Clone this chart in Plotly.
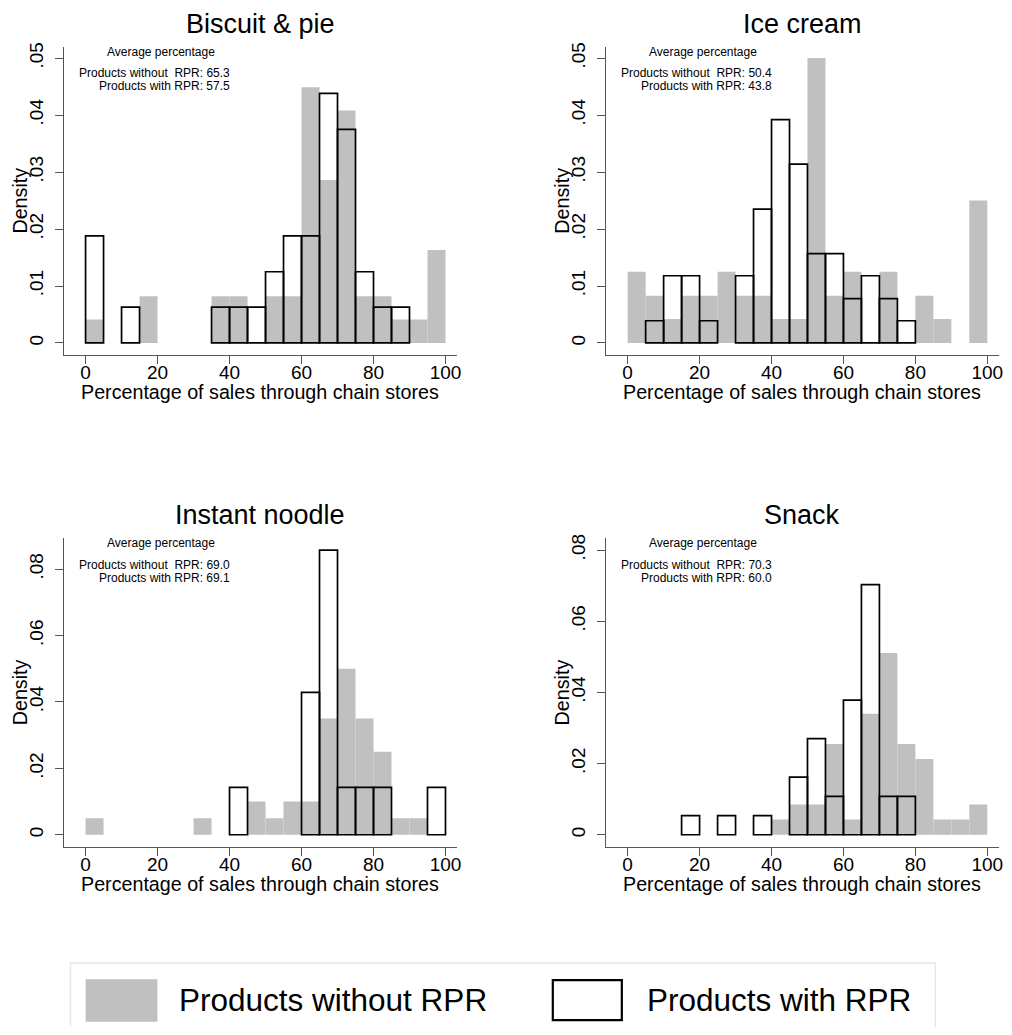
import plotly.graph_objects as go

# ---------------- data (density per 5-point bin) ----------------
bin_starts = [0, 5, 10, 15, 20, 25, 30, 35, 40, 45, 50, 55, 60, 65, 70, 75, 80, 85, 90, 95]
bin_width = 5

panel_titles = ["Biscuit & pie", "Ice cream", "Instant noodle", "Snack"]

biscuit_without = [0.0041, 0, 0, 0.0082, 0, 0, 0, 0.0082, 0.0082, 0, 0.0082, 0.0082,
                   0.0449, 0.0286, 0.0408, 0.0082, 0.0082, 0.0041, 0.0041, 0.0163]
biscuit_with = [0.0188, 0, 0.0063, 0, 0, 0, 0, 0.0063, 0.0063, 0.0063, 0.0125, 0.0188,
                0.0188, 0.0438, 0.0375, 0.0125, 0.0063, 0.0063, 0, 0]

icecream_without = [0.0125, 0.0083, 0.0042, 0.0083, 0.0083, 0.0125, 0.0083, 0.0083, 0.0042, 0.0042,
                    0.0500, 0.0083, 0.0125, 0, 0.0125, 0, 0.0083, 0.0042, 0, 0.0250]
icecream_with = [0, 0.0039, 0.0118, 0.0118, 0.0039, 0, 0.0118, 0.0235, 0.0392, 0.0314,
                 0.0157, 0.0157, 0.0078, 0.0118, 0.0078, 0.0039, 0, 0, 0, 0]

noodle_without = [0.005, 0, 0, 0, 0, 0, 0.005, 0, 0, 0.010, 0.005, 0.010,
                  0.010, 0.035, 0.050, 0.035, 0.025, 0.005, 0.005, 0]
noodle_with = [0, 0, 0, 0, 0, 0, 0, 0, 0.0143, 0, 0, 0,
               0.0429, 0.0857, 0.0143, 0.0143, 0.0143, 0, 0, 0.0143]

snack_without = [0, 0, 0, 0, 0, 0, 0, 0, 0.0043, 0.0085, 0.0085, 0.0255,
                 0.0043, 0.0340, 0.0511, 0.0255, 0.0213, 0.0043, 0.0043, 0.0085]
snack_with = [0, 0, 0, 0.0054, 0, 0.0054, 0, 0.0054, 0, 0.0162, 0.0270, 0.0108,
              0.0378, 0.0703, 0.0108, 0.0108, 0, 0, 0, 0]

avg_without = ["65.3", "50.4", "69.0", "70.3"]
avg_with = ["57.5", "43.8", "69.1", "60.0"]

x_tickvals = [0, 20, 40, 60, 80, 100]
y_tickvals_top = [0, 0.01, 0.02, 0.03, 0.04, 0.05]
y_ticktext_top = ["0", ".01", ".02", ".03", ".04", ".05"]
y_tickvals_bottom = [0, 0.02, 0.04, 0.06, 0.08]
y_ticktext_bottom = ["0", ".02", ".04", ".06", ".08"]

series_without = [biscuit_without, icecream_without, noodle_without, snack_without]
series_with = [biscuit_with, icecream_with, noodle_with, snack_with]

legend_labels = ["Products without RPR", "Products with RPR"]

# ---------------- layout geometry (pixels, in page coordinates) ----------------
OFF = 8                      # default body margin of the html page
W, H = 1012 - 2 * OFF, 1035 - 2 * OFF
FONT = "Liberation Sans, Arial, Helvetica, sans-serif"
GRAY = "#c0c0c0"
AXIS = "#555555"

# plot boxes: (left, right, top, bottom) in page px
boxes = [(64, 459, 42.7, 352), (608.3, 1003, 42.7, 352),
         (64, 459, 536, 846), (608.3, 1003, 536, 846)]
yranges = [(-0.00205, 0.05203), (-0.00205, 0.05203), (-0.0036, 0.0894), (-0.00336, 0.0834)]
xrange_ = (-6.05, 103.25)


def px(x):
    return (x - OFF) / W


def py(y):
    return 1 - (y - OFF) / H


fig = go.Figure()
annotations = []
shapes = []

for i in range(4):
    n = i + 1
    xa = "x" if n == 1 else f"x{n}"
    ya = "y" if n == 1 else f"y{n}"
    centers_w = [b + bin_width / 2 for b, v in zip(bin_starts, series_without[i]) if v > 0]
    vals_w = [v for v in series_without[i] if v > 0]
    centers_r = [b + bin_width / 2 for b, v in zip(bin_starts, series_with[i]) if v > 0]
    vals_r = [v for v in series_with[i] if v > 0]

    fig.add_trace(go.Bar(x=centers_w, y=vals_w, width=bin_width, xaxis=xa, yaxis=ya,
                         marker=dict(color=GRAY, line=dict(width=0)),
                         name=legend_labels[0], showlegend=False))
    fig.add_trace(go.Bar(x=centers_r, y=vals_r, width=bin_width, xaxis=xa, yaxis=ya,
                         marker=dict(color="rgba(0,0,0,0)", line=dict(color="black", width=1.7)),
                         name=legend_labels[1], showlegend=False))

    l, r, t, b = boxes[i]
    top = i < 2
    axis_common = dict(showline=True, linecolor=AXIS, linewidth=1.2, ticks="outside",
                       ticklen=8, tickwidth=1.2, tickcolor=AXIS, showgrid=False,
                       zeroline=False, tickfont=dict(family=FONT, size=19, color="black"))
    fig.update_layout(**{
        ("xaxis" if n == 1 else f"xaxis{n}"): dict(
            domain=[px(l), px(r)], anchor=ya, range=list(xrange_),
            tickvals=x_tickvals, ticklabelstandoff=-8, **axis_common),
        ("yaxis" if n == 1 else f"yaxis{n}"): dict(
            domain=[py(b), py(t)], anchor=xa, range=list(yranges[i]),
            tickvals=y_tickvals_top if top else y_tickvals_bottom,
            ticktext=y_ticktext_top if top else y_ticktext_bottom,
            tickangle=-90, ticklabelstandoff=4, **axis_common),
    })

    cx = (l + r) / 2
    # panel title
    annotations.append(dict(text=panel_titles[i], x=px(cx), y=py(t - 23), xref="paper", yref="paper",
                            showarrow=False, xanchor="center", yanchor="middle",
                            font=dict(family=FONT, size=27, color="black")))
    # average text
    annotations.append(dict(text="Average percentage", x=px(l + 98), y=py(t + 5.5), xref="paper",
                            yref="paper", showarrow=False, xanchor="center", yanchor="middle",
                            font=dict(family=FONT, size=12, color="black")))
    annotations.append(dict(text=f"Products without  RPR: {avg_without[i]}", x=px(l + 168.5),
                            y=py(t + 27), xref="paper", yref="paper", showarrow=False,
                            xanchor="right", yanchor="middle",
                            font=dict(family=FONT, size=12, color="black")))
    annotations.append(dict(text=f"Products with RPR: {avg_with[i]}", x=px(l + 168.5),
                            y=py(t + 40), xref="paper", yref="paper", showarrow=False,
                            xanchor="right", yanchor="middle",
                            font=dict(family=FONT, size=12, color="black")))
    # axis titles
    annotations.append(dict(text="Percentage of sales through chain stores", x=px(cx), y=py(b + 37),
                            xref="paper", yref="paper", showarrow=False, xanchor="center",
                            yanchor="middle", font=dict(family=FONT, size=19.7, color="black")))
    annotations.append(dict(text="Density", x=px(l - 44), y=py((t + b) / 2), xref="paper",
                            yref="paper", showarrow=False, xanchor="center", yanchor="middle",
                            textangle=-90, borderpad=0,
                            font=dict(family=FONT, size=19.7, color="black")))

# ---------------- legend (drawn manually to get the large swatches) ----------------
shapes.append(dict(type="rect", xref="paper", yref="paper", x0=px(70.7), x1=px(939),
                   y0=py(1060), y1=py(962.7), line=dict(color="#e8e8e8", width=1.5),
                   fillcolor="white", layer="below"))
shapes.append(dict(type="rect", xref="paper", yref="paper", x0=px(86), x1=px(158),
                   y0=py(1021.7), y1=py(979), line=dict(width=0), fillcolor=GRAY))
shapes.append(dict(type="rect", xref="paper", yref="paper", x0=px(555), x1=px(624.3),
                   y0=py(1020), y1=py(980), line=dict(color="black", width=2.2), fillcolor="white"))
annotations.append(dict(text=legend_labels[0], x=px(178), y=py(999.5), xref="paper", yref="paper",
                        showarrow=False, xanchor="left", yanchor="middle",
                        font=dict(family=FONT, size=31.5, color="black")))
annotations.append(dict(text=legend_labels[1], x=px(648), y=py(999.5), xref="paper", yref="paper",
                        showarrow=False, xanchor="left", yanchor="middle",
                        font=dict(family=FONT, size=31.5, color="black")))

fig.update_layout(width=W, height=H, margin=dict(l=0, r=0, t=0, b=0),
                  paper_bgcolor="white", plot_bgcolor="white", barmode="overlay",
                  showlegend=False, annotations=annotations, shapes=shapes,
                  font=dict(family=FONT, color="black"))

fig.write_html("out.html")
